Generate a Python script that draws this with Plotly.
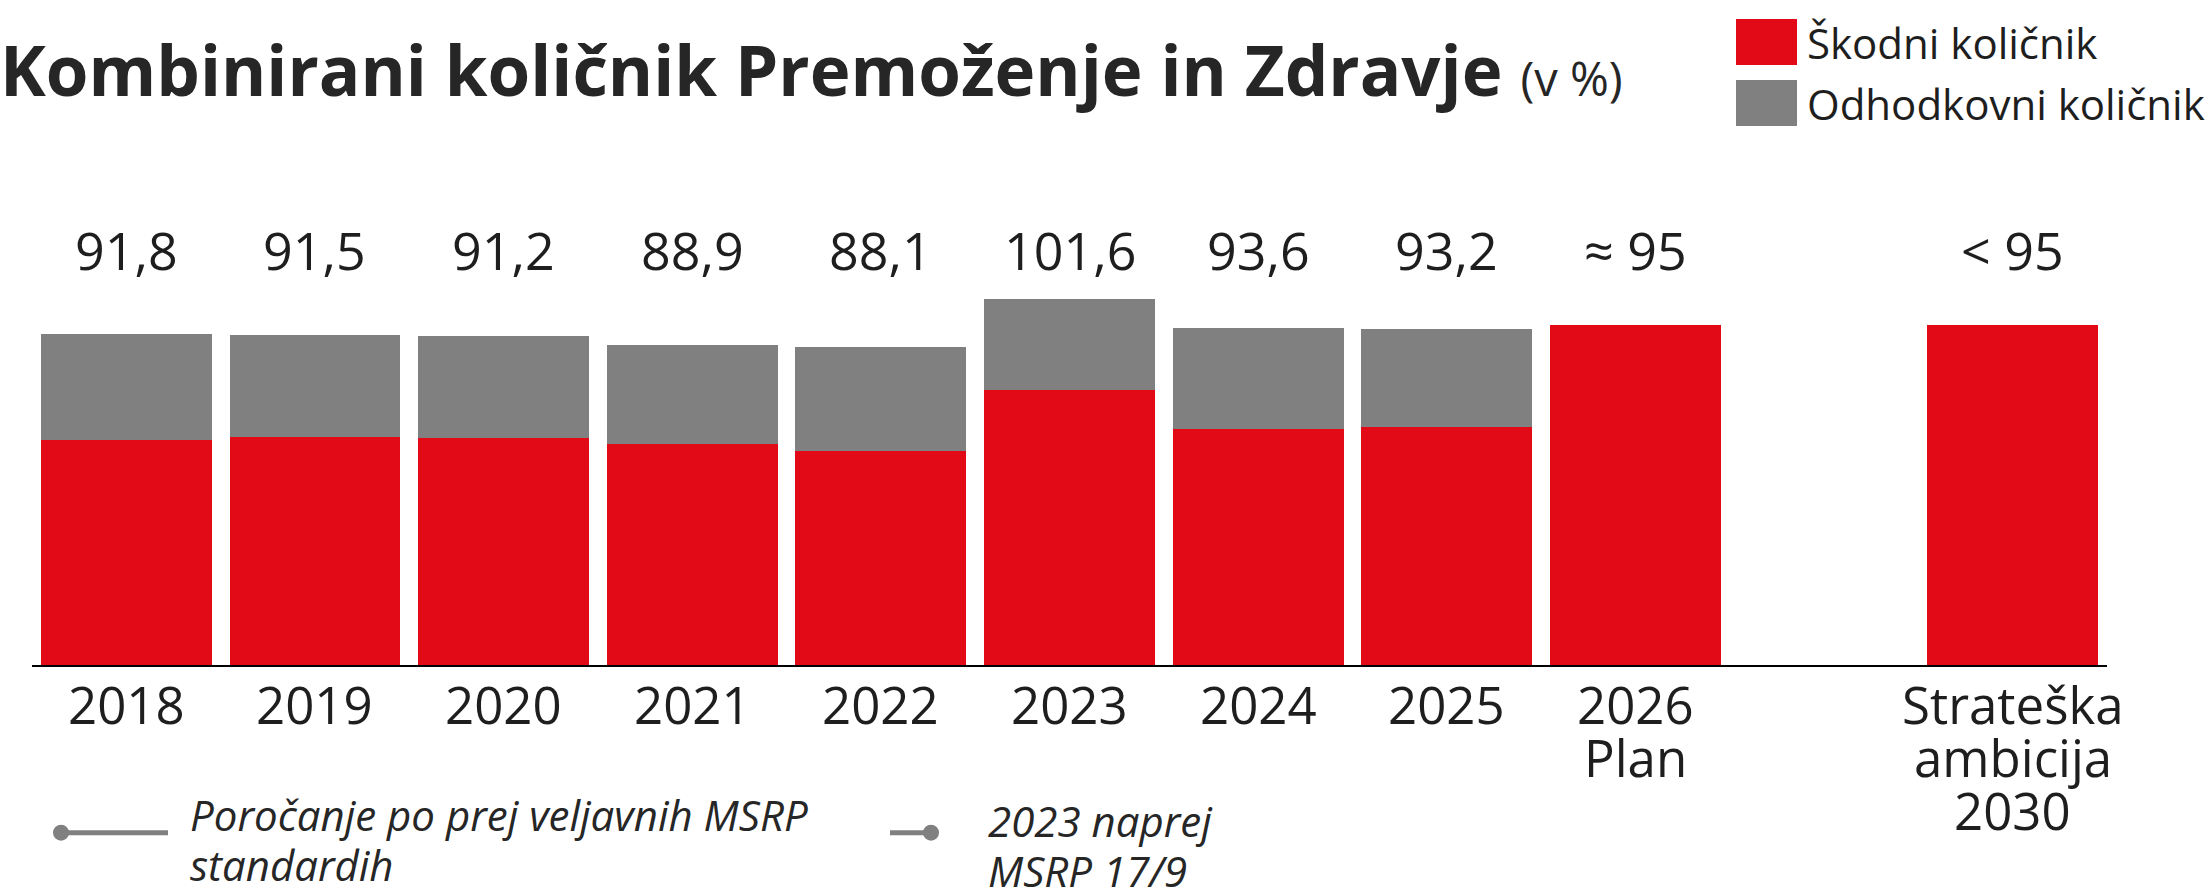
import plotly.graph_objects as go

# ---------------- data ----------------
categories = ["2018", "2019", "2020", "2021", "2022", "2023", "2024", "2025",
              "2026 Plan", " ", "Strateška ambicija 2030"]
category_lines = [["2018"], ["2019"], ["2020"], ["2021"], ["2022"], ["2023"],
                  ["2024"], ["2025"], ["2026", "Plan"], [],
                  ["Strateška", "ambicija", "2030"]]
claims_ratio = [62.3, 63.2, 62.9, 61.3, 59.3, 76.3, 65.4, 66.1, 94.4, None, 94.4]
expense_ratio = [29.5, 28.3, 28.3, 27.6, 28.8, 25.3, 28.2, 27.1, None, None, None]
combined_labels = ["91,8", "91,5", "91,2", "88,9", "88,1", "101,6", "93,6", "93,2",
                   "≈ 95", "", "< 95"]
series_names = ["Škodni količnik", "Odhodkovni količnik"]
bottom_legend = [["Poročanje po prej veljavnih MSRP", "standardih"],
                 ["2023 naprej", "MSRP 17/9"]]

RED = "#E30A17"
GRAY = "#808080"
TXT = "#1e1e1e"
FONT = "Open Sans"

W, H = 2212, 893
ML, MR, MT, MB = 32, 105, 150, 228
PW, PH = W - ML - MR, H - MT - MB


def px_x(px):
    return (px - ML) / PW


def px_y(py):
    return (H - MB - py) / PH


fig = go.Figure()
fig.add_trace(go.Bar(x=categories, y=claims_ratio, name=series_names[0],
                     marker=dict(color=RED, line=dict(width=0))))
fig.add_trace(go.Bar(x=categories, y=expense_ratio, name=series_names[1],
                     marker=dict(color=GRAY, line=dict(width=0))))

annotations = []
# combined-ratio values above bars (x given as category index)
for i, lab in enumerate(combined_labels):
    if lab:
        annotations.append(dict(x=i, xref="x", y=px_y(249.5), yref="paper",
                                text=lab, showarrow=False, xanchor="center",
                                yanchor="middle",
                                font=dict(family=FONT, size=52, color=TXT)))
# category labels below axis
for i, lines in enumerate(category_lines):
    for j, line in enumerate(lines):
        annotations.append(dict(x=i, xref="x", y=px_y(703.5 + j * 53), yref="paper",
                                text=line, showarrow=False, xanchor="center",
                                yanchor="middle",
                                font=dict(family=FONT, size=51, color=TXT)))

# top-right legend
shapes = []
legend_colors = [RED, GRAY]
legend_tops = [19, 80]
for name, col, top in zip(series_names, legend_colors, legend_tops):
    shapes.append(dict(type="rect", xref="paper", yref="paper",
                       x0=px_x(1736), x1=px_x(1797), y0=px_y(top), y1=px_y(top + 46),
                       fillcolor=col, line=dict(width=0)))
    annotations.append(dict(x=px_x(1805), y=px_y(top + 23), xref="paper", yref="paper",
                            text=name, showarrow=False, xanchor="left", yanchor="middle",
                            font=dict(family=FONT, size=42, color=TXT)))

# bottom legend (line + dot markers)
LINE_Y = 832.7
shapes.append(dict(type="line", xref="paper", yref="paper",
                   x0=px_x(61), x1=px_x(168), y0=px_y(LINE_Y), y1=px_y(LINE_Y),
                   line=dict(color=GRAY, width=5)))
shapes.append(dict(type="circle", xref="paper", yref="paper",
                   x0=px_x(53), x1=px_x(69), y0=px_y(LINE_Y - 8), y1=px_y(LINE_Y + 8),
                   fillcolor=GRAY, line=dict(width=0)))
shapes.append(dict(type="line", xref="paper", yref="paper",
                   x0=px_x(890), x1=px_x(931), y0=px_y(LINE_Y), y1=px_y(LINE_Y),
                   line=dict(color=GRAY, width=5)))
shapes.append(dict(type="circle", xref="paper", yref="paper",
                   x0=px_x(923), x1=px_x(939), y0=px_y(LINE_Y - 8), y1=px_y(LINE_Y + 8),
                   fillcolor=GRAY, line=dict(width=0)))

bl_x = [188, 986]
bl_y = [[814.6, 864], [820.5, 870.5]]
for lines, x, ys in zip(bottom_legend, bl_x, bl_y):
    for line, y in zip(lines, ys):
        annotations.append(dict(x=px_x(x), y=px_y(y), xref="paper", yref="paper",
                                text=line, showarrow=False, xanchor="left",
                                yanchor="middle",
                                font=dict(family=FONT, size=42, color="#262626",
                                          style="italic")))

fig.update_layout(
    width=W, height=H,
    margin=dict(l=ML, r=MR, t=MT, b=MB, pad=0),
    paper_bgcolor="white", plot_bgcolor="white",
    barmode="stack", bargap=0.094,
    showlegend=False,
    title=dict(text="<b>Kombinirani količnik Premoženje in Zdravje</b> "
                    "<span style='font-size:47px'>(v %)</span>",
               x=0, xref="container", xanchor="left",
               y=1 - 48 / H, yref="container", yanchor="top",
               font=dict(family=FONT, size=69, color="#262626")),
    xaxis=dict(type="category", categoryorder="array", categoryarray=categories,
               range=[-0.5, len(categories) - 0.5],
               showline=True, linecolor="black", linewidth=2,
               showticklabels=False, ticks="", showgrid=False, zeroline=False),
    yaxis=dict(range=[0, PH / 3.604], visible=False, showgrid=False, zeroline=False),
    annotations=annotations,
    shapes=shapes,
)

fig.write_html("out.html",
               config={"displayModeBar": False},
               post_script="document.body.style.margin='0';"
                           "document.body.style.overflow='hidden';")
